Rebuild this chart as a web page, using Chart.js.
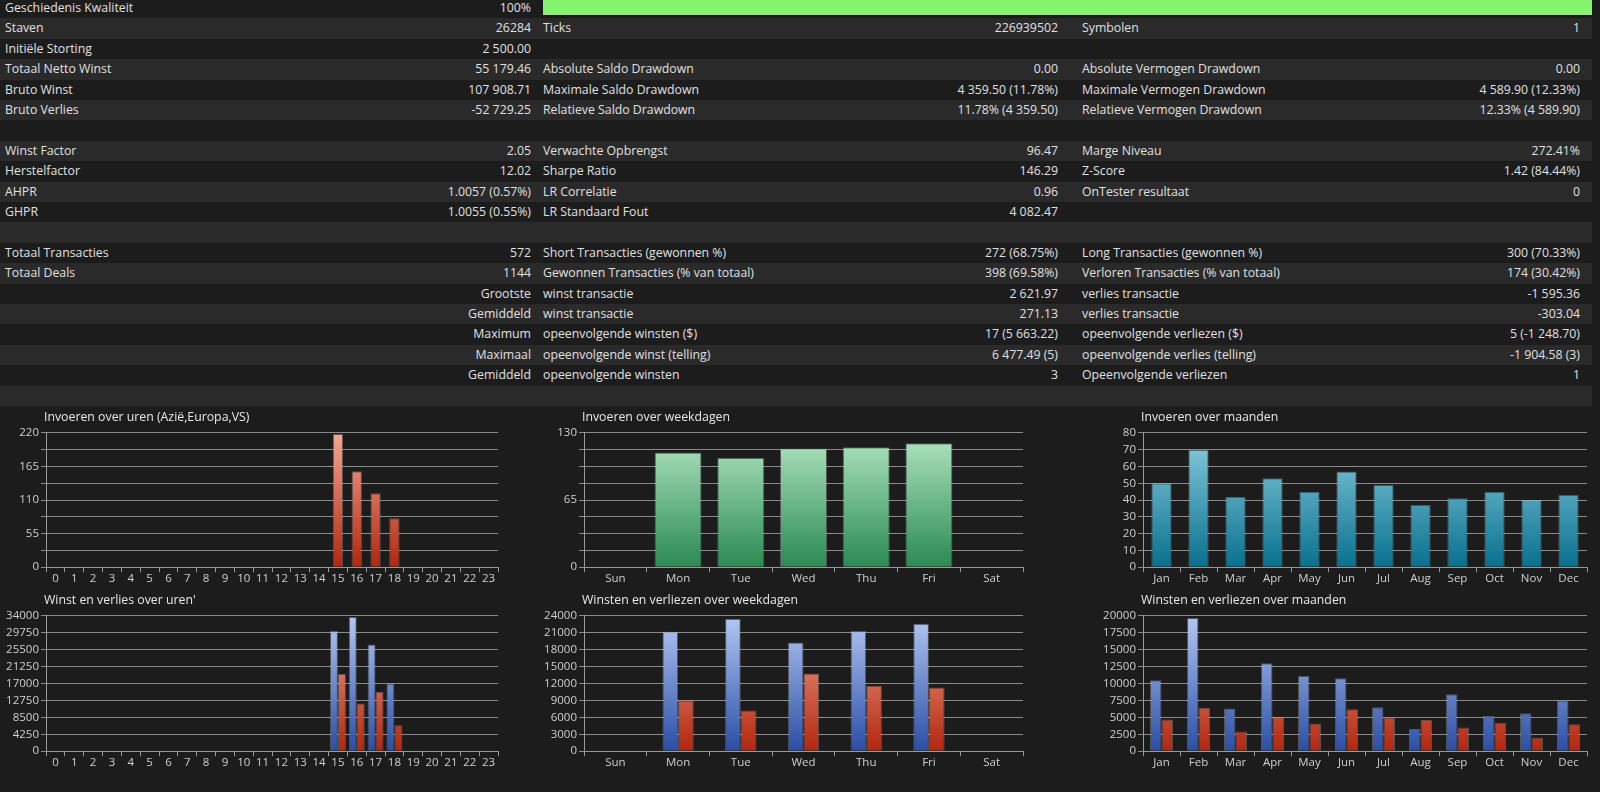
<!DOCTYPE html>
<html>
<head>
<meta charset="utf-8">
<script src="https://cdn.jsdelivr.net/npm/chart.js@4.4.0/dist/chart.umd.min.js"></script>
<style>
  body { margin:0; background:#1c1c1c; width:1600px; height:792px; overflow:hidden;
         font-family:"Open Sans","DejaVu Sans",sans-serif; font-size:12.3px; color:#e0e0e0; }
  .row { position:absolute; left:0; width:1592px; height:20.4px; line-height:19px; }
  .row.alt { background:#2a2a2a; }
  .c { position:absolute; top:0; white-space:nowrap; }
  .r { text-align:right; }
  .title { position:absolute; font-size:12.3px; color:#e8e8e8; }
  canvas { position:absolute; }
</style>
</head>
<body>
<div id="table"></div>
<script>
    "use strict";

    // Table rows: [label1, value1, label2, value2, label3, value3]
    var statRows = [
        ["Geschiedenis Kwaliteit", "100%", "", "", "", ""],
        ["Staven", "26284", "Ticks", "226939502", "Symbolen", "1"],
        ["Initiële Storting", "2 500.00", "", "", "", ""],
        ["Totaal Netto Winst", "55 179.46", "Absolute Saldo Drawdown", "0.00", "Absolute Vermogen Drawdown", "0.00"],
        ["Bruto Winst", "107 908.71", "Maximale Saldo Drawdown", "4 359.50 (11.78%)", "Maximale Vermogen Drawdown", "4 589.90 (12.33%)"],
        ["Bruto Verlies", "-52 729.25", "Relatieve Saldo Drawdown", "11.78% (4 359.50)", "Relatieve Vermogen Drawdown", "12.33% (4 589.90)"],
        ["", "", "", "", "", ""],
        ["Winst Factor", "2.05", "Verwachte Opbrengst", "96.47", "Marge Niveau", "272.41%"],
        ["Herstelfactor", "12.02", "Sharpe Ratio", "146.29", "Z-Score", "1.42 (84.44%)"],
        ["AHPR", "1.0057 (0.57%)", "LR Correlatie", "0.96", "OnTester resultaat", "0"],
        ["GHPR", "1.0055 (0.55%)", "LR Standaard Fout", "4 082.47", "", ""],
        ["", "", "", "", "", ""],
        ["Totaal Transacties", "572", "Short Transacties (gewonnen %)", "272 (68.75%)", "Long Transacties (gewonnen %)", "300 (70.33%)"],
        ["Totaal Deals", "1144", "Gewonnen Transacties (% van totaal)", "398 (69.58%)", "Verloren Transacties (% van totaal)", "174 (30.42%)"],
        ["", "Grootste", "winst transactie", "2 621.97", "verlies transactie", "-1 595.36"],
        ["", "Gemiddeld", "winst transactie", "271.13", "verlies transactie", "-303.04"],
        ["", "Maximum", "opeenvolgende winsten ($)", "17 (5 663.22)", "opeenvolgende verliezen ($)", "5 (-1 248.70)"],
        ["", "Maximaal", "opeenvolgende winst (telling)", "6 477.49 (5)", "opeenvolgende verlies (telling)", "-1 904.58 (3)"],
        ["", "Gemiddeld", "opeenvolgende winsten", "3", "Opeenvolgende verliezen", "1"],
        ["", "", "", "", "", ""]
    ];

    // Chart data
    var hourLabels = [];
    for (var h = 0; h < 24; h++) hourLabels.push(String(h));
    var hourEntries = [0,0,0,0,0,0,0,0,0,0,0,0,0,0,0,218,157,121,80,0,0,0,0,0];
    var hourWins    = [0,0,0,0,0,0,0,0,0,0,0,0,0,0,0,30200,33700,26800,17000,0,0,0,0,0];
    var hourLosses  = [0,0,0,0,0,0,0,0,0,0,0,0,0,0,0,19400,12000,14900,6500,200,0,0,0,0];

    var dayLabels = ["Sun","Mon","Tue","Wed","Thu","Fri","Sat"];
    var dayEntries = [0,111,106,115,116,120,0];
    var dayWins    = [0,21200,23500,19300,21300,22600,0];
    var dayLosses  = [0,9000,7200,13800,11600,11300,0];

    var monthLabels = ["Jan","Feb","Mar","Apr","May","Jun","Jul","Aug","Sep","Oct","Nov","Dec"];
    var monthEntries = [50,70,42,53,45,57,49,37,41,45,40,43];
    var monthWins    = [10500,19700,6300,13000,11100,10800,6500,3300,8400,5200,5600,7500];
    var monthLosses  = [4700,6400,2900,5100,4100,6200,5000,4600,3500,4200,2000,4000];

    // Build table
    var table = document.getElementById('table');
    statRows.forEach(function (r, i) {
        var row = document.createElement('div');
        row.className = 'row' + (i % 2 === 1 ? ' alt' : '');
        row.style.top = (i * 20.4 - 2) + 'px';
        var html = '';
        if (r[0]) html += '<div class="c" style="left:5px">' + r[0] + '</div>';
        if (r[1]) html += '<div class="c r" style="right:1061px">' + r[1] + '</div>';
        if (r[2]) html += '<div class="c" style="left:543px">' + r[2] + '</div>';
        if (r[3]) html += '<div class="c r" style="right:534px">' + r[3] + '</div>';
        if (r[4]) html += '<div class="c" style="left:1082px">' + r[4] + '</div>';
        if (r[5]) html += '<div class="c r" style="right:12px">' + r[5] + '</div>';
        if (i === 0) html += '<div style="position:absolute;left:543px;top:2px;width:1049px;height:15px;background:#86f46e"></div>';
        row.innerHTML = html;
        table.appendChild(row);
    });

    // Gradients
    function grad(top, bottom) {
        return function (ctx) {
            var area = ctx.chart.chartArea;
            if (!area) return bottom;
            var g = ctx.chart.ctx.createLinearGradient(0, area.top, 0, area.bottom);
            g.addColorStop(0, top);
            g.addColorStop(1, bottom);
            return g;
        };
    }
    var RED = grad("#f2a894", "#b3260e");
    var BLUE = grad("#b4c8f4", "#2a4ea6");
    var GREEN = grad("#b2e6c2", "#2a8a52");
    var TEAL = grad("#8ccfe0", "#08708e");

    function makeChart(opts) {
        var c = document.createElement('canvas');
        c.style.left = opts.left + 'px';
        c.style.top = opts.top + 'px';
        c.width = opts.width; c.height = opts.height;
        c.style.width = opts.width + 'px'; c.style.height = opts.height + 'px';
        document.body.appendChild(c);
        var t = document.createElement('div');
        t.className = 'title';
        t.style.left = (opts.left + opts.axisW - 2) + 'px';
        t.style.top = (opts.top - 16) + 'px';
        t.textContent = opts.title;
        document.body.appendChild(t);

        var step = opts.max / 8;
        new Chart(c.getContext('2d'), {
            type: 'bar',
            data: {
                labels: opts.labels,
                datasets: opts.sets.map(function (s) {
                    return { data: s.data, backgroundColor: s.color, borderColor: "rgba(255,255,255,0.25)", borderWidth: 1,
                             barPercentage: opts.barPct, categoryPercentage: opts.catPct };
                })
            },
            options: {
                responsive: false, animation: false,
                layout: { padding: { top: 6, right: 4 } },
                plugins: { legend: { display: false }, tooltip: { enabled: false } },
                scales: {
                    x: {
                        grid: { display: true, drawOnChartArea: false, offset: true, color: "#999", tickLength: 5 },
                        border: { color: "#999" },
                        ticks: { color: "#cfcfcf", font: { size: 11.5, family: "Open Sans" }, maxRotation: 0, autoSkip: false, padding: 0 }
                    },
                    y: {
                        min: 0, max: opts.max,
                        afterFit: function (s) { s.width = opts.axisW; },
                        grid: { color: "#8a8a8a", tickLength: 5 },
                        border: { color: "#999" },
                        ticks: {
                            stepSize: step, autoSkip: false, color: "#cfcfcf", font: { size: 11.5, family: "Open Sans" }, padding: 2,
                            callback: function (v) {
                                var every = opts.labelEvery || 1;
                                var k = Math.round(v / step);
                                return k % every === 0 ? String(Math.round(v)) : '';
                            }
                        }
                    }
                }
            }
        });
    }

    makeChart({ left: 0, top: 424, width: 502, height: 162, axisW: 46, title: "Invoeren over uren (Azië,Europa,VS)",
        labels: hourLabels, max: 220, labelEvery: 2, barPct: 0.55, catPct: 1, sets: [{ data: hourEntries, color: RED }] });
    makeChart({ left: 0, top: 607, width: 502, height: 163, axisW: 46, title: "Winst en verlies over uren'",
        labels: hourLabels, max: 34000, barPct: 1, catPct: 0.85, sets: [{ data: hourWins, color: BLUE }, { data: hourLosses, color: RED }] });

    makeChart({ left: 540, top: 424, width: 487, height: 162, axisW: 44, title: "Invoeren over weekdagen",
        labels: dayLabels, max: 130, labelEvery: 4, barPct: 0.75, catPct: 1, sets: [{ data: dayEntries, color: GREEN }] });
    makeChart({ left: 540, top: 607, width: 487, height: 163, axisW: 44, title: "Winsten en verliezen over weekdagen",
        labels: dayLabels, max: 24000, barPct: 1, catPct: 0.5, sets: [{ data: dayWins, color: BLUE }, { data: dayLosses, color: RED }] });

    makeChart({ left: 1082, top: 424, width: 509, height: 162, axisW: 61, title: "Invoeren over maanden",
        labels: monthLabels, max: 80, barPct: 0.55, catPct: 1, sets: [{ data: monthEntries, color: TEAL }] });
    makeChart({ left: 1082, top: 607, width: 509, height: 163, axisW: 61, title: "Winsten en verliezen over maanden",
        labels: monthLabels, max: 20000, barPct: 1, catPct: 0.62, sets: [{ data: monthWins, color: BLUE }, { data: monthLosses, color: RED }] });
</script>
</body>
</html>
